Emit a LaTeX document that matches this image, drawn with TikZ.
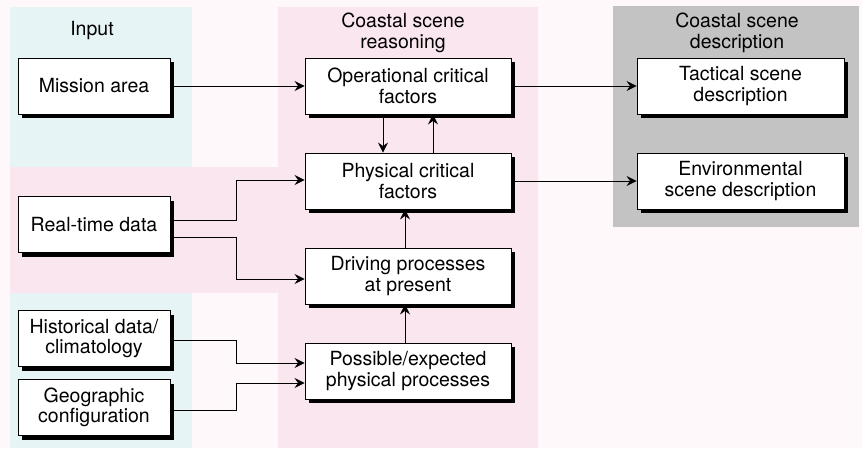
\documentclass[tikz,border=0pt]{standalone}
\usepackage{fontspec}
\setmainfont{TeX Gyre Heros}
\usetikzlibrary{arrows.meta,shadows}
\definecolor{bgwhite}{HTML}{FEF8FB}
\definecolor{bgcyan}{HTML}{E7F4F6}
\definecolor{bgpink}{HTML}{FAE6EF}
\definecolor{bggray}{HTML}{C3C3C3}
\tikzset{
  box/.style={draw=black, line width=0.9pt, fill=white, align=center,
    inner sep=0pt, minimum height=56pt,
    general shadow={fill=black, shadow xshift=4pt, shadow yshift=-4pt},
    font=\fontsize{19.5}{20.5}\selectfont},
  inbox/.style={box, minimum width=152pt},
  midbox/.style={box, minimum width=206pt},
  outbox/.style={box, minimum width=207pt},
  head/.style={align=center, inner sep=0pt, font=\fontsize{19.5}{20.5}\selectfont},
  arr/.style={draw=black, line width=0.9pt, -{Stealth[length=10pt,width=10pt,inset=3.5pt]}},
  ln/.style={draw=black, line width=0.9pt}
}
\begin{document}
\begin{tikzpicture}[x=1pt,y=-1pt]
\useasboundingbox (0,0) rectangle (862,448);
% backgrounds
\fill[bgwhite] (0,0) rectangle (862,448);
\fill[bgcyan] (10,7) rectangle (192,448);
\fill[bgpink] (10,167) rectangle (278,293);
\fill[bgpink] (278,7) rectangle (538,448);
\fill[bggray] (613,6) rectangle (859,227);
% headers
\node[head] (hin) at (92,31) {Input};
\node[head] (hmid) at (403,33) {Coastal scene\\reasoning};
\node[head] (hout) at (737,33) {Coastal scene\\description};
% input boxes
\node[inbox] (mission) at (94,86) {Mission area};
\node[inbox] (rt) at (94,224.5) {Real-time data};
\node[inbox] (hist) at (94,338.5) {Historical data/\\climatology};
\node[inbox] (geo) at (94,407.5) {Geographic\\configuration};
% middle boxes
\node[midbox] (op) at (408,86) {Operational critical\\factors};
\node[midbox] (phys) at (408,181) {Physical critical\\factors};
\node[midbox] (drive) at (408,276) {Driving processes\\at present};
\node[midbox] (poss) at (408,371) {Possible/expected\\physical processes};
% output boxes
\node[outbox] (tact) at (740.5,86) {Tactical scene\\description};
\node[outbox] (env) at (740.5,181) {Environmental\\scene description};
% connectors
\draw[arr] (mission.east) -- (op.west);
\draw[arr] (op.east) -- (tact.west);
\draw[arr] (phys.east) -- (env.west);
\draw[arr] ([xshift=-25pt]op.south) -- ([xshift=-25pt]phys.north);
\draw[arr] ([xshift=25pt]phys.north) -- ([xshift=25pt]op.south);
\draw[arr] ([xshift=-3pt]drive.north) -- ([xshift=-3pt]phys.south);
\draw[arr] ([xshift=-3pt]poss.north) -- ([xshift=-3pt]drive.south);
\coordinate (rt1) at (rt.east |- 0,220);
\coordinate (rt2) at (rt.east |- 0,237);
\draw[arr] (rt1) -- (236,220) |- (phys.west |- 0,180);
\draw[arr] (rt2) -- (236,237) |- (drive.west |- 0,279);
\draw[arr] (hist.east |- 0,340) -- (236,340) |- (poss.west |- 0,363);
\draw[arr] (geo.east |- 0,410) -- (236,410) |- (poss.west |- 0,383);
\end{tikzpicture}
\end{document}
